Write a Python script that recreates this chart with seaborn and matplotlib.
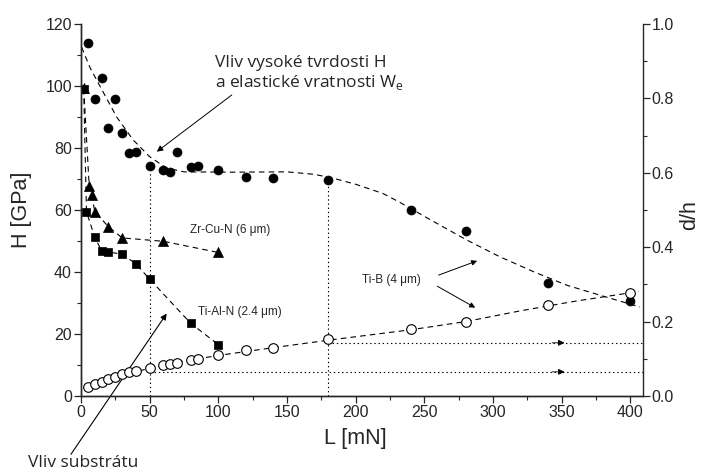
import numpy as np
import pandas as pd
import matplotlib
matplotlib.use("Agg")
import matplotlib.pyplot as plt
import seaborn as sns

# ---- data ----
tib_x = [5, 10, 15, 20, 25, 30, 35, 40, 50, 60, 65, 70, 80, 85, 100, 120, 140, 180, 240, 280, 340, 400]
tib_h = [114.0, 95.8, 102.7, 86.4, 95.8, 84.7, 78.4, 78.7, 74.2, 72.9, 72.1, 78.6, 73.9, 74.3,
         72.9, 70.5, 70.2, 69.7, 60.0, 53.2, 36.3, 30.6]
tib_dh = [0.024, 0.032, 0.037, 0.045, 0.051, 0.058, 0.064, 0.067, 0.074, 0.083, 0.086, 0.089,
          0.098, 0.099, 0.109, 0.123, 0.129, 0.153, 0.179, 0.199, 0.244, 0.278]

tib_fit_x = [0.5, 6.5, 14, 26, 38, 50, 62, 75, 110, 150, 170, 184, 200, 220, 232, 257, 281, 305, 330, 354, 378, 407]
tib_fit_h = [112.5, 106.0, 99.8, 90.0, 82.6, 77.2, 73.6, 72.3, 72.2, 72.3, 71.5, 70.2, 68.3, 65.3,
             62.5, 56.2, 50.3, 44.9, 40.0, 35.7, 32.5, 28.7]
dh_fit_x = [2, 10, 20, 30, 40, 50, 70, 100, 140, 180, 240, 280, 320, 360, 400, 406]
dh_fit = [0.021, 0.0325, 0.044, 0.056, 0.066, 0.074, 0.091, 0.109, 0.130, 0.150, 0.178, 0.200,
          0.229, 0.255, 0.2775, 0.282]

zr_x = [2, 6, 8, 10, 20, 30, 60, 100]
zr_h = [99.2, 67.7, 64.8, 59.5, 54.6, 51.0, 49.9, 46.3]
tial_x = [2, 4, 10, 15, 20, 30, 40, 50, 80, 100]
tial_h = [99.0, 59.5, 51.2, 46.9, 46.4, 45.8, 42.6, 37.7, 23.4, 16.6]

guide_x = [50, 180]
guide_h = [74.2, 69.7]
guide_dh = [0.065, 0.143]

x_ticks = [0, 50, 100, 150, 200, 250, 300, 350, 400]
h_ticks = [0, 20, 40, 60, 80, 100, 120]
dh_ticks = [0.0, 0.2, 0.4, 0.6, 0.8, 1.0]

sns.set_style("ticks")
plt.rcParams["font.family"] = ["Liberation Sans", "DejaVu Sans"]
plt.rcParams["lines.scale_dashes"] = False
plt.rcParams["mathtext.fontset"] = "custom"
plt.rcParams["mathtext.rm"] = "Open Sans"

ANN_FONT = ["Open Sans", "DejaVu Sans"]
DASH = (0, (4, 3))
DOT = (0, (1, 2))

fig = plt.figure(figsize=(7.04, 4.70), dpi=100)
ax = fig.add_axes([0.115, 0.1574, 0.798, 0.7916])
ax2 = ax.twinx()

# dashed fit curves
sns.lineplot(x=tib_fit_x, y=tib_fit_h, ax=ax, color="black", linestyle=DASH, lw=0.8,
             sort=False, estimator=None)
sns.lineplot(x=zr_x, y=zr_h, ax=ax, color="black", linestyle=DASH, lw=0.8,
             sort=False, estimator=None)
sns.lineplot(x=tial_x, y=tial_h, ax=ax, color="black", linestyle=DASH, lw=0.8,
             sort=False, estimator=None)
sns.lineplot(x=dh_fit_x, y=dh_fit, ax=ax2, color="black", linestyle=DASH, lw=0.8,
             sort=False, estimator=None)

# dotted guide lines
for gx, gh, gd in zip(guide_x, guide_h, guide_dh):
    ax.plot([gx, gx], [0, gh - 1.5], color="black", linestyle=DOT, lw=0.8)
    ax2.plot([gx, 409], [gd, gd], color="black", linestyle=DOT, lw=0.8)
    ax2.annotate("", xy=(352, gd), xytext=(343, gd),
                 arrowprops=dict(arrowstyle="-|>", color="black", lw=0.6,
                                 mutation_scale=9, shrinkA=0, shrinkB=0))

# markers
sns.scatterplot(x=tib_x, y=tib_h, ax=ax, marker="o", color="black", s=42,
                edgecolor="black", linewidth=0.5, zorder=5)
sns.scatterplot(x=zr_x, y=zr_h, ax=ax, marker="^", color="black", s=52,
                edgecolor="black", linewidth=0.5, zorder=5)
sns.scatterplot(x=tial_x, y=tial_h, ax=ax, marker="s", color="black", s=28,
                edgecolor="black", linewidth=0.5, zorder=5)
sns.scatterplot(x=tib_x, y=tib_dh, ax=ax2, marker="o", facecolor="white", s=48,
                edgecolor="black", linewidth=0.8, zorder=5)

# axes
ax.set_xlim(0, 409)
ax.set_ylim(0, 120)
ax2.set_ylim(0, 1.0)
ax.set_xticks(x_ticks)
ax.set_xticks([25, 75, 125, 175, 225, 275, 325, 375], minor=True)
ax.set_yticks(h_ticks)
ax.set_yticks([10, 30, 50, 70, 90, 110], minor=True)
ax2.set_yticks(dh_ticks)
ax2.set_yticks([0.1, 0.3, 0.5, 0.7, 0.9], minor=True)
ax2.set_yticklabels([f"{v:.1f}" for v in dh_ticks])
for a in (ax, ax2):
    a.spines["top"].set_visible(False)
    for s in a.spines.values():
        s.set_linewidth(1.0)
    a.tick_params(which="major", direction="out", length=5, width=0.9, labelsize=11.5, pad=1.5)
    a.tick_params(which="minor", direction="out", length=3, width=0.8)
    a.set_xlabel("")
    a.set_ylabel("")
ax.spines["right"].set_visible(False)

fig.text(0.504, 0.066, "L [mN]", ha="center", va="center", fontsize=15.5)
fig.text(0.031, 0.553, "H [GPa]", ha="center", va="center", rotation=90, fontsize=15.5)
fig.text(0.980, 0.543, "d/h", ha="center", va="center", rotation=90, fontsize=15.5)

# annotations
ax.text(97.6, 107.4, "Vliv vysoké tvrdosti H", fontsize=12.5, family=ANN_FONT, va="center")
ax.text(97.6, 101.0, r"a elastické vratnosti W$_\mathregular{e}$", fontsize=12.5,
        family=ANN_FONT, va="center")
ax.annotate("", xy=(55.2, 78.8), xytext=(109.8, 97.1),
            arrowprops=dict(arrowstyle="-|>", color="black", lw=0.7, mutation_scale=9,
                            shrinkA=0, shrinkB=0))

ax.text(79.4, 53.5, "Zr-Cu-N (6 \u03bcm)", fontsize=8.5, va="center")
ax.text(85.2, 27.1, "Ti-Al-N (2.4 \u03bcm)", fontsize=8.5, va="center")
ax.text(204.5, 37.4, "Ti-B (4 \u03bcm)", fontsize=8.5, va="center")
ax.annotate("", xy=(288.4, 43.6), xytext=(260.4, 39.0),
            arrowprops=dict(arrowstyle="-|>", color="black", lw=0.7, mutation_scale=8,
                            shrinkA=0, shrinkB=0))
ax.annotate("", xy=(287.0, 28.5), xytext=(259.5, 35.4),
            arrowprops=dict(arrowstyle="-|>", color="black", lw=0.7, mutation_scale=8,
                            shrinkA=0, shrinkB=0))

ax.annotate("", xy=(62.4, 26.6), xytext=(-7.3, -18.8), annotation_clip=False,
            arrowprops=dict(arrowstyle="-|>", color="black", lw=0.8, mutation_scale=9,
                            shrinkA=0, shrinkB=0))
fig.text(0.040, 0.006, "Vliv substrátu", fontsize=12.5, family=ANN_FONT,
         va="baseline", ha="left")

fig.savefig("out.png", dpi=100)
